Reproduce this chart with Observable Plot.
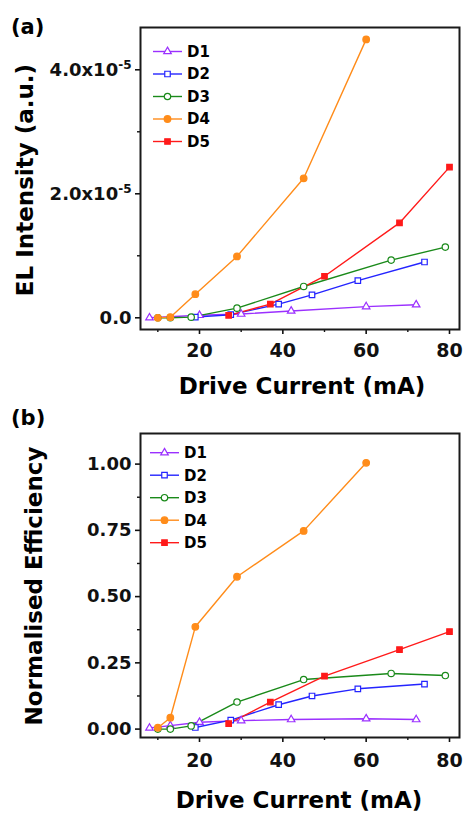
<!DOCTYPE html>
<html><head><meta charset="utf-8">
<script src="https://cdn.jsdelivr.net/npm/d3@7"></script>
<script src="https://cdn.jsdelivr.net/npm/@observablehq/plot@0.6"></script>
<style>
html,body{margin:0;padding:0;background:#fff;}
#wrap{position:relative;width:463px;height:814px;overflow:hidden;}
#wrap svg{position:absolute;left:0;}
</style></head><body><div id="wrap"></div>
<script>
// ---- data ----
const series = ["D1","D2","D3","D4","D5"];
const colors = ["#9b30ff","#2424ff","#1a8a1a","#ff8c1a","#ff1a1a"];
const symbols = ["triangle","square","circle","circle","square"];
const filled = [false,false,false,true,true];
const markerR = [2.8,3.1,3.2,3.3,3.1];

const xTicks = [20,40,60,80];
const xMinorTicks = [10,30,50,70];

// Panel (a): EL intensity (a.u.)
const aD1x = [8,20,30,42,60,72];
const aD1y = [0,0.04e-5,0.06e-5,0.11e-5,0.18e-5,0.21e-5];
const aD2x = [19,27.5,39,47,58,74];
const aD2y = [0.01e-5,0.05e-5,0.22e-5,0.37e-5,0.60e-5,0.90e-5];
const aD3x = [10,13,18,29,45,66,79];
const aD3y = [0,0,0.01e-5,0.155e-5,0.505e-5,0.93e-5,1.14e-5];
const aD4x = [10,13,19,29,45,60];
const aD4y = [0,0.01e-5,0.38e-5,0.99e-5,2.25e-5,4.49e-5];
const aD5x = [27,37,50,68,80];
const aD5y = [0.04e-5,0.22e-5,0.67e-5,1.53e-5,2.43e-5];
const aYTicks = [0,2e-5,4e-5];
const aYMinorTicks = [1e-5,3e-5];
const aYTickLabels = ["0.0","2.0x10","4.0x10"];
const aYTickExp = ["","-5","-5"];

// Panel (b): normalised efficiency
const bD1x = [8,13,20,30,42,60,72];
const bD1y = [0.004,0.013,0.026,0.032,0.036,0.039,0.036];
const bD2x = [19,27.5,39,47,58,74];
const bD2y = [0.006,0.034,0.092,0.125,0.152,0.17];
const bD3x = [10,13,18,29,45,66,79];
const bD3y = [0,0,0.012,0.102,0.187,0.21,0.202];
const bD4x = [10,13,19,29,45,60];
const bD4y = [0.005,0.043,0.386,0.575,0.748,1.005];
const bD5x = [27,37,50,68,80];
const bD5y = [0.021,0.102,0.2,0.30,0.368];
const bYTicks = [0,0.25,0.5,0.75,1.0];
const bYMinorTicks = [0.125,0.375,0.625,0.875];
const bYTickLabels = ["0.00","0.25","0.50","0.75","1.00"];

const xTitle = "Drive Current (mA)";
const aYTitle = "EL Intensity (a.u.)";
const bYTitle = "Normalised Efficiency";

// ---- build ----
const FONT = "DejaVu Sans, Liberation Sans, Arial, sans-serif";
function rows(xs, ys){ return xs.map((x,i)=>({x, y: ys[i]})); }
const aData = [rows(aD1x,aD1y),rows(aD2x,aD2y),rows(aD3x,aD3y),rows(aD4x,aD4y),rows(aD5x,aD5y)];
const bData = [rows(bD1x,bD1y),rows(bD2x,bD2y),rows(bD3x,bD3y),rows(bD4x,bD4y),rows(bD5x,bD5y)];

function makePanel(cfg){
  const marks = [];
  cfg.data.forEach((d,i)=>{
    marks.push(Plot.line(d,{x:"x",y:"y",stroke:colors[i],strokeWidth:1.4}));
  });
  cfg.data.forEach((d,i)=>{
    marks.push(Plot.dot(d,{x:"x",y:"y",symbol:symbols[i],r:markerR[i],
      stroke:colors[i],strokeWidth:1.2,fill:filled[i]?colors[i]:"white"}));
  });
  marks.push(Plot.axisX({ticks:xTicks,tickSize:5,tickPadding:cfg.xPad,fontSize:19,strokeWidth:1.6,label:null,tickFormat:d=>String(d)}));
  marks.push(Plot.axisX({ticks:xMinorTicks,tickSize:3,strokeWidth:1.4,label:null,tickFormat:()=>""}));
  marks.push(Plot.axisY({ticks:cfg.yTicks,tickSize:5,tickPadding:4,fontSize:18,strokeWidth:1.6,label:null,
    tickFormat:(d)=>cfg.yLabels[cfg.yTicks.indexOf(d)]}));
  marks.push(Plot.axisY({ticks:cfg.yMinor,tickSize:3,strokeWidth:1.4,label:null,tickFormat:()=>""}));
  marks.push(Plot.frame({stroke:"#1a1a1a",strokeWidth:2}));
  const svg = Plot.plot({
    width:463, height:cfg.height,
    marginLeft:140, marginRight:4, marginTop:cfg.mt, marginBottom:cfg.mb,
    x:{domain:[5.84,82.4]},
    y:{domain:cfg.yDomain},
    style:{fontFamily:FONT,fontWeight:"bold",color:"#111",background:"transparent"},
    marks
  });
  svg.style.top = cfg.top+"px";
  const s = d3.select(svg);
  // superscripts
  if (cfg.yExp){
    s.selectAll('g[aria-label="y-axis tick label"] text').each(function(){
      const t = d3.select(this);
      const txt = t.text();
      const k = cfg.yLabels.indexOf(txt);
      if (k>=0 && cfg.yExp[k]){
        t.text(null);
        t.append("tspan").text(txt);
        t.append("tspan").attr("dy","-0.55em").attr("font-size","12px").text(cfg.yExp[k]);
      }
    });
  }
  // panel label
  s.append("text").attr("x",11).attr("y",cfg.panelBase).attr("font-size",21).attr("text-anchor","start")
    .attr("font-family",FONT).attr("font-weight","bold").attr("fill","#000").text(cfg.panel);
  // x title
  s.append("text").attr("x",cfg.xTitleX).attr("y",cfg.xTitleBase).attr("text-anchor","middle")
    .attr("font-size",23).attr("font-family",FONT).attr("font-weight","bold").attr("fill","#000").text(xTitle);
  // y title
  s.append("text").attr("transform",`translate(${cfg.yTitleX},${cfg.yTitleY}) rotate(-90)`)
    .attr("text-anchor","middle").attr("font-size",23).attr("font-family",FONT)
    .attr("font-weight","bold").attr("fill","#000").text(cfg.yTitle);
  // legend
  const lg = s.append("g");
  series.forEach((name,i)=>{
    const y = cfg.legY0 + i*cfg.legDy;
    lg.append("line").attr("x1",cfg.legX0).attr("x2",cfg.legX0+29).attr("y1",y).attr("y2",y)
      .attr("stroke",colors[i]).attr("stroke-width",1.4);
    const sym = {triangle:d3.symbolTriangle,square:d3.symbolSquare,circle:d3.symbolCircle}[symbols[i]];
    lg.append("path").attr("transform",`translate(${cfg.legX0+14.5},${y})`)
      .attr("d",d3.symbol(sym,markerR[i]*markerR[i]*Math.PI)())
      .attr("stroke",colors[i]).attr("stroke-width",1.2).attr("fill",filled[i]?colors[i]:"white");
    lg.append("text").attr("x",cfg.legX0+34).attr("y",y).attr("dy","0.36em").attr("text-anchor","start")
      .attr("font-size",15).attr("font-family",FONT).attr("font-weight","bold").attr("fill","#000").text(name);
  });
  document.getElementById("wrap").appendChild(svg);
}

makePanel({data:aData,height:400,top:0,mt:27,mb:71,yDomain:[-0.189e-5,4.682e-5],
  yTicks:aYTicks,yMinor:aYMinorTicks,yLabels:aYTickLabels,yExp:aYTickExp,xPad:9,
  panel:"(a)",panelBase:34,xTitleX:302,xTitleBase:393.5,yTitle:aYTitle,yTitleX:33,yTitleY:180,
  legX0:153,legY0:51.5,legDy:22.5});
makePanel({data:bData,height:414,top:400,mt:33,mb:77,yDomain:[-0.0317,1.1155],
  yTicks:bYTicks,yMinor:bYMinorTicks,yLabels:bYTickLabels,yExp:null,xPad:11,
  panel:"(b)",panelBase:25,xTitleX:299,xTitleBase:408,yTitle:bYTitle,yTitleX:41.5,yTitleY:186,
  legX0:150,legY0:52.7,legDy:22.5});
</script></body></html>
